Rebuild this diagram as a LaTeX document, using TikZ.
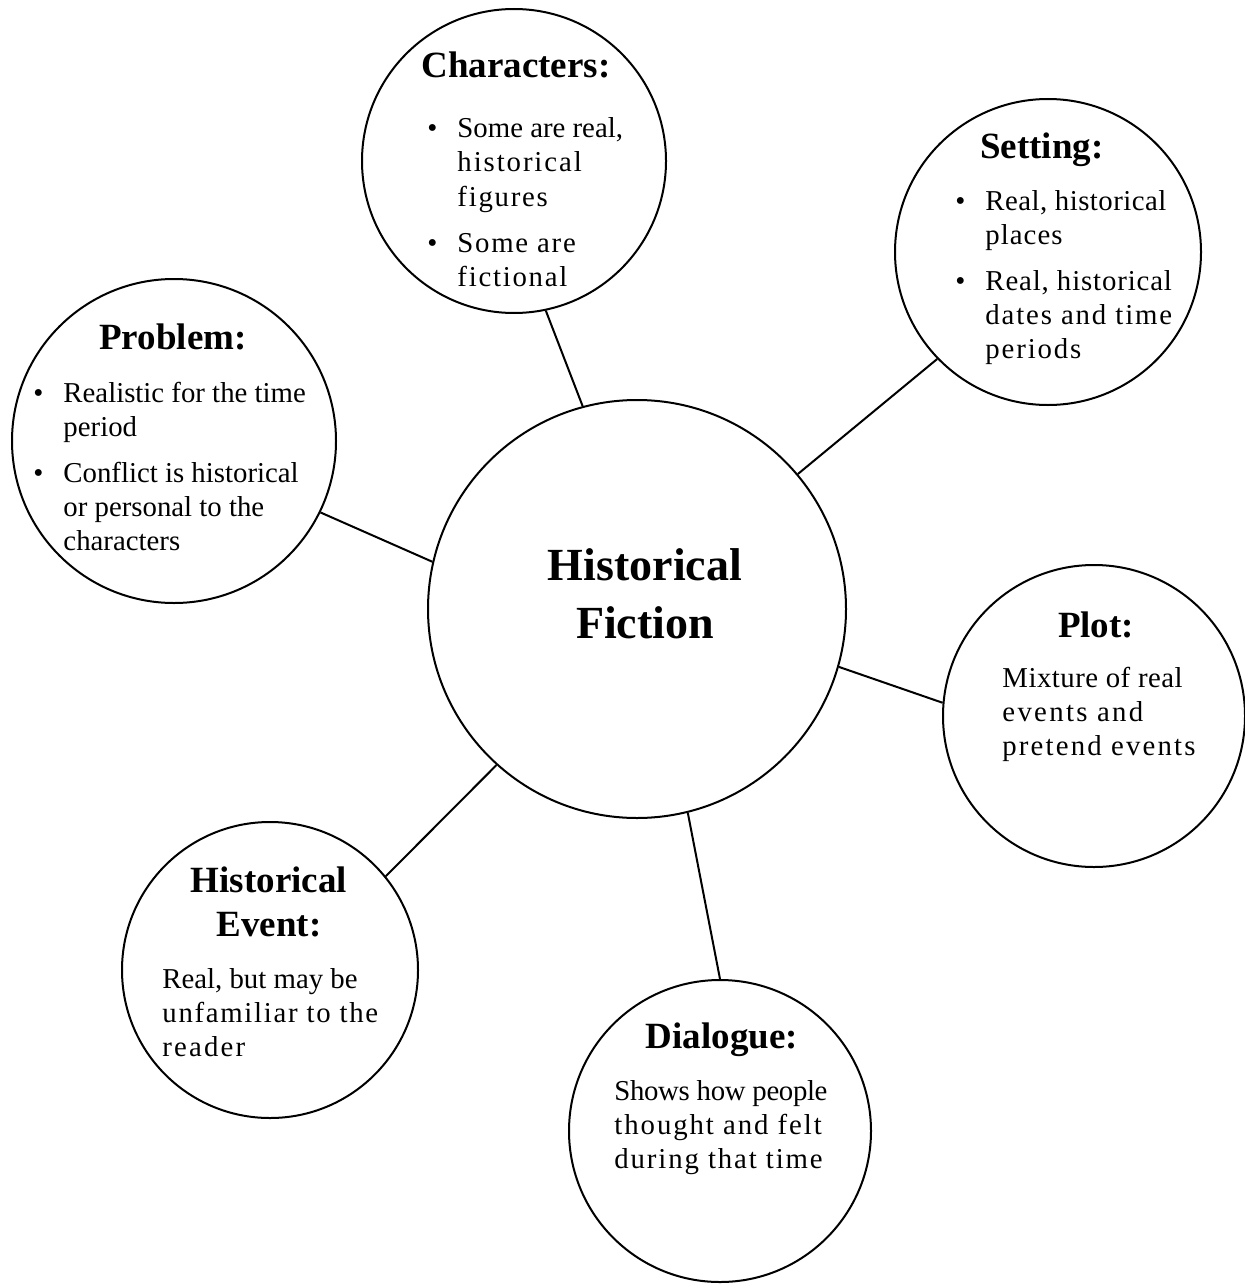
\documentclass[tikz,border=0pt]{standalone}
\usepackage{fontspec}
\setmainfont{Liberation Serif}
\newcommand{\bul}{\textbullet}
\newcommand{\spaced}[2]{{\addfontfeatures{LetterSpace=#1}#2}}
\begin{document}
\begin{tikzpicture}[x=0.5pt,y=-0.5pt,
    bubble/.style={circle,draw,line width=1pt,inner sep=0pt},
    head/.style={font=\fontsize{18.5}{22}\selectfont\bfseries,inner sep=0pt,anchor=base},
    body/.style={font=\fontsize{14.4}{17}\selectfont,inner sep=0pt,anchor=base west},
    link/.style={line width=1pt}]
    \useasboundingbox (0,0) rectangle (1245,1284);
    \node[bubble,minimum size=209pt] (hf) at (637,609) {};
    \node[bubble,minimum size=152pt] (ch) at (514,161) {};
    \node[bubble,minimum size=153pt] (se) at (1048,252) {};
    \node[bubble,minimum size=162pt] (pr) at (174,441) {};
    \node[bubble,minimum size=151pt] (pl) at (1094,716) {};
    \node[bubble,minimum size=148pt] (ev) at (270,970) {};
    \node[bubble,minimum size=151pt] (di) at (720,1131) {};
    \draw[link] (hf.105.2) -- (ch.-78.1);
    \draw[link] (hf.40.8) -- (se.-136);
    \draw[link] (hf.167.2) -- (pr.-26.9);
    \draw[link] (hf.-16.9) -- (pl.175.8);
    \draw[link] (hf.-132) -- (ev.39.9);
    \draw[link] (hf.-76.3) -- (di.90);
    \node[font=\fontsize{23}{29}\selectfont\bfseries,inner sep=0pt,anchor=base] (hftext) at (645,580)
      {\begin{tabular}[t]{@{}c@{}}Historical\\Fiction\end{tabular}};
    \node[head] (chhead) at (516,78) {Characters:};
    \node[body] (chtext) at (427,138) {\begin{tabular}[t]{@{}l@{\hspace{10pt}}l@{}}
      \bul & Some are real,\\ & \spaced{6.6}{historical}\\ & \spaced{6}{figures}\\[6pt]
      \bul & \spaced{6}{Some are}\\ & \spaced{6}{fictional}\end{tabular}};
    \node[head] (sehead) at (1042,158) {Setting:};
    \node[body] (setext) at (955,210) {\begin{tabular}[t]{@{}l@{\hspace{10pt}}l@{}}
      \bul & \spaced{1.6}{Real, historical}\\ & \spaced{3.5}{places}\\[6pt]
      \bul & \spaced{3}{Real, historical}\\ & \spaced{6.4}{dates and time}\\ & \spaced{6.4}{periods}\end{tabular}};
    \node[head] (prhead) at (173,349) {Problem:};
    \node[body] (prtext) at (33,402) {\begin{tabular}[t]{@{}l@{\hspace{10pt}}l@{}}
      \bul & Realistic for the time\\ & period\\[6pt]
      \bul & Conflict is historical\\ & or personal to the\\ & characters\end{tabular}};
    \node[head] (plhead) at (1096,637) {Plot:};
    \node[body] (pltext) at (1002,687) {\begin{tabular}[t]{@{}l@{}}
      \spaced{1.7}{Mixture of real}\\ \spaced{8}{events and}\\ \spaced{7.5}{pretend events}\end{tabular}};
    \node[head] (evhead) at (269,892) {\begin{tabular}[t]{@{}c@{}}Historical\\Event:\end{tabular}};
    \node[body] (evtext) at (162,988) {\begin{tabular}[t]{@{}l@{}}
      Real, but may be\\ \spaced{5.9}{unfamiliar to the}\\ \spaced{7.6}{reader}\end{tabular}};
    \node[head] (dihead) at (722,1048) {Dialogue:};
    \node[body] (ditext) at (614,1100) {\begin{tabular}[t]{@{}l@{}}
      \spaced{-1.2}{Shows how people}\\ \spaced{6.7}{thought and felt}\\ \spaced{6.5}{during that time}\end{tabular}};
\end{tikzpicture}
\end{document}
